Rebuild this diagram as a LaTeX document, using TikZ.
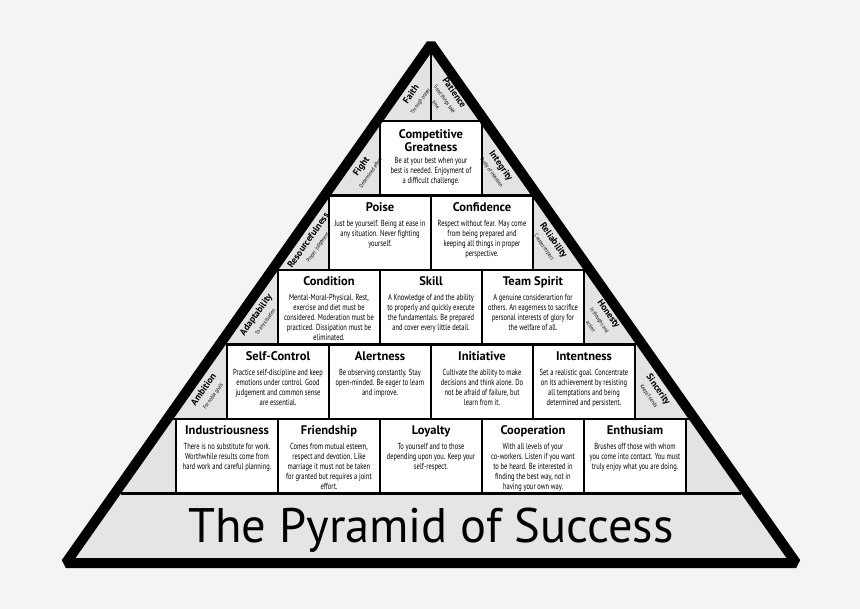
\documentclass[tikz,border=0pt]{standalone}
\usepackage{fontspec}
\setmainfont{PT Sans}
\newfontfamily\cond[FakeStretch=0.74]{PT Sans}
\newfontfamily\subf[FakeStretch=0.8]{PT Sans}
\definecolor{bgc}{HTML}{F4F4F4}
\definecolor{tric}{HTML}{E3E3E3}
\definecolor{basec}{HTML}{E5E5E5}
\newcommand\pbox[5]{%
  \node[boxst] (#1) at (#2,#3) {};
  \node[titlest] (#1t) at (#2+51,#3+16) {#4};
  \node[bodyst] (#1b) at (#2+51,#3+24.5) {#5};
}
\newcommand\ledge[1]{431-0.704*(#1-53)}
\newcommand\redge[1]{431+0.704*(#1-53)}
\newcommand\lblt[1]{{\bfseries\fontsize{9.4}{10}\selectfont #1}}
\newcommand\lbls[1]{{\subf\fontsize{5.7}{6.2}\selectfont #1}}
\begin{document}
\begin{tikzpicture}[x=1pt,y=-1pt,
  boxst/.style={draw=black, fill=white, line width=2.4pt, minimum width=102pt, minimum height=74.5pt, anchor=north west, inner sep=0pt, outer sep=0pt},
  titlest/.style={font=\bfseries\fontsize{12.5}{14}\selectfont, inner sep=0pt, anchor=base, align=center},
  bodyst/.style={font=\cond\fontsize{8.8}{9.9}\selectfont, align=center, inner sep=0pt, anchor=north},
  lbl/.style={align=center, inner sep=0pt},
  rowline/.style={line width=2.4pt},
  outline/.style={line width=10pt, line join=bevel}]
\useasboundingbox (0,0) rectangle (860,609);
\fill[bgc] (0,0) rectangle (860,609);
% inner triangle
\fill[tric] (431,53) -- ({\ledge{558}},558) -- ({\redge{558}},558) -- cycle;
\fill[basec] ({\ledge{493.5}},493.5) -- ({\ledge{558}},558) -- ({\redge{558}},558) -- ({\redge{493.5}},493.5) -- cycle;
% row lines
\foreach \yy in {121,195.5,270,344.5,419,493.5}
  \draw[rowline] ({\ledge{\yy}},\yy) -- ({\redge{\yy}},\yy);
\coordinate (apexin) at (431,53);
\coordinate (topmid) at (431,121);
\draw[rowline] (apexin) -- (topmid);
% boxes
\node[boxst] (cg) at (380,121) {};
\node[titlest] (cgt) at (431,152) {Competitive\\[-0.5pt]Greatness};
\node[bodyst] (cgb) at (431,157) {Be at your best when your\\best is needed. Enjoyment of\\a difficult challenge.};
\pbox{poise}{329}{195.5}{Poise}{Just be yourself. Being at ease in\\any situation. Never fighting\\yourself.}
\pbox{conf}{431}{195.5}{Confidence}{Respect without fear. May come\\from being prepared and\\keeping all things in proper\\perspective.}
\pbox{cond}{278}{270}{Condition}{Mental-Moral-Physical. Rest,\\exercise and diet must be\\considered. Moderation must be\\practiced. Dissipation must be\\eliminated.}
\pbox{skill}{380}{270}{Skill}{A Knowledge of and the ability\\to properly and quickly execute\\the fundamentals. Be prepared\\and cover every little detail.}
\pbox{team}{482}{270}{Team Spirit}{A genuine considerartion for\\others. An eagerness to sacrifice\\personal interests of glory for\\the welfare of all.}
\pbox{self}{227}{344.5}{Self-Control}{Practice self-discipline and keep\\emotions under control. Good\\judgement and common sense\\are essential.}
\pbox{alert}{329}{344.5}{Alertness}{Be observing constantly. Stay\\open-minded. Be eager to learn\\and improve.}
\pbox{init}{431}{344.5}{Initiative}{Cultivate the ability to make\\decisions and think alone. Do\\not be afraid of failure, but\\learn from it.}
\pbox{intent}{533}{344.5}{Intentness}{Set a realistic goal. Concentrate\\on its achievement by resisting\\all temptations and being\\determined and persistent.}
\pbox{indus}{176}{419}{Industriousness}{There is no substitute for work.\\Worthwhile results come from\\hard work and careful planning.}
\pbox{friend}{278}{419}{Friendship}{Comes from mutual esteem,\\respect and devotion. Like\\marriage it must not be taken\\for granted but requires a joint\\effort.}
\pbox{loyal}{380}{419}{Loyalty}{To yourself and to those\\depending upon you. Keep your\\self-respect.}
\pbox{coop}{482}{419}{Cooperation}{With all levels of your\\co-workers. Listen if you want\\to be heard. Be interested in\\finding the best way, not in\\having your own way.}
\pbox{enth}{584}{419}{Enthusiam}{Brushes off those with whom\\you come into contact. You must\\truly enjoy what you are doing.}
% side labels
\node[lbl, rotate=54.85] (faith) at (415.5,97.5) {\lblt{Faith}\\[-1.5pt]\lbls{Through prayer}};
\node[lbl, rotate=-54.85] (pat) at (446,98.5) {\lblt{Patience}\\[-1.5pt]\lbls{Good things take}\\[-1.5pt]\lbls{time.}};
\node[lbl, rotate=54.85] (fight) at (365.3,169) {\lblt{Fight}\\[-1.5pt]\lbls{Determined effort}};
\node[lbl, rotate=54.85] (res) at (312.8,243.5) {\lblt{Resourcefulness}\\[-1.5pt]\lbls{Proper judgement}};
\node[lbl, rotate=54.85] (adapt) at (260.4,318) {\lblt{Adaptability}\\[-1.5pt]\lbls{To any situation}};
\node[lbl, rotate=54.85] (amb) at (208,392.5) {\lblt{Ambition}\\[-1.5pt]\lbls{For noble goals}};
\node[lbl, rotate=-54.85] (integ) at (496.7,169) {\lblt{Integrity}\\[-1.5pt]\lbls{Purity of intention}};
\node[lbl, rotate=-54.85] (rel) at (549.2,243.5) {\lblt{Reliability}\\[-1.5pt]\lbls{Creates respect}};
\node[lbl, rotate=-54.85] (hon) at (600.5,319.5) {\lblt{Honesty}\\[-1.5pt]\lbls{In thought and}\\[-1.5pt]\lbls{action}};
\node[lbl, rotate=-54.85] (sinc) at (654,392.5) {\lblt{Sincerity}\\[-1.5pt]\lbls{Keeps friends}};
% base title
\node[inner sep=0pt, anchor=base] (title) at (431,543) {\fontsize{48.5}{52}\selectfont The Pyramid of Success};
% outline
\draw[outline] (431,44.3) -- ({\ledge{563}-6.1},563) -- ({\redge{563}+6.1},563) -- cycle;
\end{tikzpicture}
\end{document}
